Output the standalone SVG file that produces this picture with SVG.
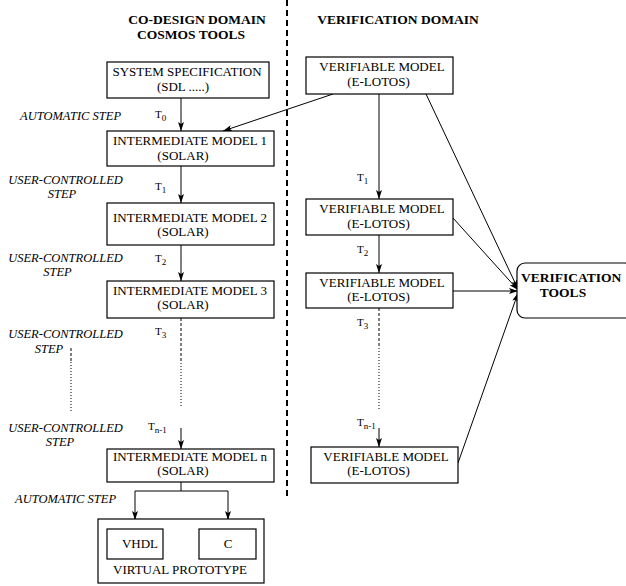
<svg xmlns="http://www.w3.org/2000/svg" width="626" height="586" viewBox="0 0 626 586" font-family="'Liberation Serif', 'DejaVu Serif', serif">
<defs>
<style>
text{font-family:"Liberation Serif","DejaVu Serif",serif;fill:#000}
.t{font-size:13px}
.h{font-size:13.5px;font-weight:bold}
.i{font-size:12.5px;font-style:italic}
.lab{font-size:11px}
.c{text-anchor:middle}
.box{fill:#fff;stroke:#000;stroke-width:1.2}
.ln{fill:none;stroke:#000;stroke-width:1}
.arr{fill:none;stroke:#000;stroke-width:1;marker-end:url(#ah)}
.dot{fill:none;stroke:#000;stroke-width:1;stroke-dasharray:1,2}
.dsh{fill:none;stroke:#000;stroke-width:1;stroke-dasharray:3,2}
</style>
<marker id="ah" markerWidth="10" markerHeight="8" refX="9" refY="3" orient="auto" markerUnits="userSpaceOnUse">
<path d="M0,0 L9,3 L0,6 L2,3 Z" fill="#000"/>
</marker>
</defs>
<rect width="626" height="586" fill="#fff"/>

<g id="headings">
<text class="h c" x="197" y="24">CO-DESIGN DOMAIN</text>
<text class="h c" x="191" y="39">COSMOS TOOLS</text>
<text class="h c" x="398" y="24">VERIFICATION DOMAIN</text>
</g>

<line x1="287" y1="0" x2="287" y2="498" stroke="#000" stroke-width="2" stroke-dasharray="6,4"/>

<g id="connectors">
<line class="arr" x1="181" y1="98" x2="181" y2="131"/>
<line class="arr" x1="181" y1="166" x2="181" y2="203"/>
<line class="arr" x1="181" y1="245" x2="181" y2="281"/>
<line class="dsh" x1="181" y1="318" x2="181" y2="360"/>
<line class="dot" x1="181" y1="360" x2="181" y2="407"/>
<line class="arr" x1="181" y1="428" x2="181" y2="449"/>
<line class="dsh" x1="71" y1="348" x2="71" y2="362"/>
<line class="dot" x1="71" y1="362" x2="71" y2="412"/>
<polyline class="ln" points="181,482 181,491"/>
<polyline class="arr" points="181,491 135,491 135,520"/>
<polyline class="arr" points="181,491 228,491 228,520"/>
<line class="arr" x1="333" y1="94" x2="223" y2="131"/>
<line class="arr" x1="379" y1="94" x2="379" y2="199"/>
<line class="arr" x1="379" y1="235" x2="379" y2="273"/>
<line class="dsh" x1="379" y1="308" x2="379" y2="345"/>
<line class="dot" x1="379" y1="345" x2="379" y2="410"/>
<line class="arr" x1="379" y1="428" x2="379" y2="447"/>
<line class="arr" x1="426" y1="94" x2="518" y2="289"/>
<line class="arr" x1="453" y1="218" x2="518" y2="290"/>
<line class="arr" x1="453" y1="291" x2="518" y2="291"/>
<line class="arr" x1="458" y1="463" x2="518" y2="293"/>
</g>

<g id="step-labels">
<text class="i" x="20" y="120">AUTOMATIC STEP</text>
<text class="i c" x="65.5" y="184">USER-CONTROLLED</text>
<text class="i c" x="62" y="198">STEP</text>
<text class="i c" x="65.5" y="262">USER-CONTROLLED</text>
<text class="i c" x="57.5" y="276">STEP</text>
<text class="i c" x="65.5" y="338">USER-CONTROLLED</text>
<text class="i c" x="49" y="353">STEP</text>
<text class="i c" x="65.5" y="432">USER-CONTROLLED</text>
<text class="i c" x="60" y="446">STEP</text>
<text class="i" x="15" y="503">AUTOMATIC STEP</text>
</g>

<g id="t-labels">
<text class="lab" x="155" y="118">T<tspan font-size="9" dy="3">0</tspan></text>
<text class="lab" x="155" y="190">T<tspan font-size="9" dy="3">1</tspan></text>
<text class="lab" x="155" y="262">T<tspan font-size="9" dy="3">2</tspan></text>
<text class="lab" x="155" y="335">T<tspan font-size="9" dy="3">3</tspan></text>
<text class="lab" x="148" y="430">T<tspan font-size="9" dy="3">n-1</tspan></text>
<text class="lab" x="357" y="181">T<tspan font-size="9" dy="3">1</tspan></text>
<text class="lab" x="357" y="253">T<tspan font-size="9" dy="3">2</tspan></text>
<text class="lab" x="357" y="326">T<tspan font-size="9" dy="3">3</tspan></text>
<text class="lab" x="357" y="426">T<tspan font-size="9" dy="3">n-1</tspan></text>
</g>

<g id="system-spec">
<rect class="box" x="107" y="62" width="162" height="36"/>
<text class="t c" x="187" y="76">SYSTEM SPECIFICATION</text>
<text class="t c" x="183" y="91">(SDL .....)</text>
</g>
<g id="im1">
<rect class="box" x="107" y="131" width="167" height="35"/>
<text class="t c" x="190" y="145">INTERMEDIATE MODEL 1</text>
<text class="t c" x="183" y="160">(SOLAR)</text>
</g>
<g id="im2">
<rect class="box" x="107" y="203" width="167" height="42"/>
<text class="t c" x="190" y="222">INTERMEDIATE MODEL 2</text>
<text class="t c" x="183" y="236">(SOLAR)</text>
</g>
<g id="im3">
<rect class="box" x="107" y="281" width="167" height="37"/>
<text class="t c" x="190" y="295">INTERMEDIATE MODEL 3</text>
<text class="t c" x="183" y="309">(SOLAR)</text>
</g>
<g id="imn">
<rect class="box" x="107" y="449" width="167" height="33"/>
<text class="t c" x="190" y="461">INTERMEDIATE MODEL n</text>
<text class="t c" x="183" y="475">(SOLAR)</text>
</g>
<g id="virtual-prototype">
<rect class="box" x="98" y="519" width="166" height="64"/>
<text class="t c" x="180" y="574">VIRTUAL PROTOTYPE</text>
</g>
<g id="vhdl">
<rect class="box" x="107" y="529" width="56" height="30"/>
<text class="t c" x="140" y="548">VHDL</text>
</g>
<g id="c">
<rect class="box" x="199" y="529" width="57" height="30"/>
<text class="t c" x="228" y="548">C</text>
</g>

<g id="vm0">
<rect class="box" x="306" y="57" width="147" height="37"/>
<text class="t c" x="382" y="71">VERIFIABLE MODEL</text>
<text class="t c" x="378.5" y="86">(E-LOTOS)</text>
</g>
<g id="vm1">
<rect class="box" x="306" y="199" width="147" height="36"/>
<text class="t c" x="382" y="213">VERIFIABLE MODEL</text>
<text class="t c" x="378.5" y="228">(E-LOTOS)</text>
</g>
<g id="vm2">
<rect class="box" x="306" y="273" width="147" height="35"/>
<text class="t c" x="382" y="287">VERIFIABLE MODEL</text>
<text class="t c" x="378.5" y="301">(E-LOTOS)</text>
</g>
<g id="vmn">
<rect class="box" x="311" y="447" width="147" height="36"/>
<text class="t c" x="386" y="461">VERIFIABLE MODEL</text>
<text class="t c" x="378.5" y="475">(E-LOTOS)</text>
</g>
<g id="verification-tools">
<rect class="box" x="517" y="263" width="116" height="55" rx="8" ry="8"/>
<text class="h" x="521" y="282">VERIFICATION</text>
<text class="h c" x="563" y="297">TOOLS</text>
</g>
</svg>
